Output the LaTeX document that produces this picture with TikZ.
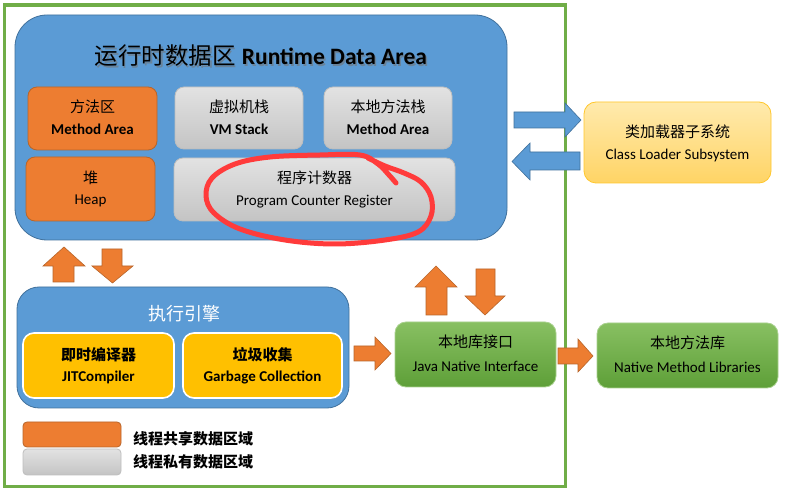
\documentclass[tikz,border=0pt]{standalone}
\usepackage{fontspec}
\setmainfont{Carlito}
\newfontfamily\cjk{Noto Sans CJK SC}
\definecolor{frameG}{HTML}{70AD47}
\definecolor{blueF}{HTML}{5B9BD5}
\definecolor{blueD}{HTML}{41719C}
\definecolor{orF}{HTML}{ED7D31}
\definecolor{orD}{HTML}{B8652A}
\definecolor{grT}{HTML}{E2E2E2}
\definecolor{grB}{HTML}{C4C4C4}
\definecolor{grD}{HTML}{BEBEBE}
\definecolor{yeT}{HTML}{FFEAAD}
\definecolor{yeB}{HTML}{FFD465}
\definecolor{yeD}{HTML}{FFC72C}
\definecolor{goldF}{HTML}{FFC000}
\definecolor{gnT}{HTML}{88C062}
\definecolor{gnB}{HTML}{5E9F38}
\definecolor{gnD}{HTML}{A9D18E}
\definecolor{penR}{HTML}{FF3B3B}
\begin{document}
\begin{tikzpicture}[x=1pt,y=-1pt,
  box/.style={inner sep=0pt, outer sep=0pt},
  bluebox/.style={box, fill=blueF, draw=blueD, line width=0.8pt},
  orbox/.style={box, fill=orF, draw=orD, line width=0.8pt, rounded corners=9pt},
  grbox/.style={box, top color=grT, bottom color=grB, draw=grD, line width=0.8pt, rounded corners=9pt},
  goldbox/.style={box, fill=goldF, draw=white, line width=1.6pt, rounded corners=11pt},
  gnbox/.style={box, top color=gnT, bottom color=gnB, draw=gnD, line width=0.8pt, rounded corners=11pt},
  lab/.style={inner sep=0pt, font=\fontsize{15}{18}\selectfont},
  zh/.style={inner sep=0pt, font=\cjk\fontsize{15}{18}\selectfont},
  barrow/.style={fill=blueF, draw=blueD, line width=0.6pt, line join=miter},
  oarrow/.style={fill=orF, draw=orD, line width=0.6pt, line join=miter}]
\useasboundingbox (0,0) rectangle (788,494);
\fill[white] (0,0) rectangle (788,494);

% outer green frame
\draw[frameG, line width=3.5pt] (4.5,5) rectangle (565.5,486.5);

% Runtime data area
\node[bluebox, rounded corners=32pt, minimum width=492pt, minimum height=225pt] (rda) at (261,127.5) {};
\node[inner sep=0pt, text=black!55, opacity=0.6] (rdatitles) at (262.5,57.5)
  {{\cjk\fontsize{23.5}{28}\selectfont 运行时数据区}\hspace{0.6em}{\fontsize{23.5}{28}\selectfont\bfseries Runtime Data Area}};
\node[inner sep=0pt, text=black] (rdatitle) at (261,56)
  {{\cjk\fontsize{23.5}{28}\selectfont 运行时数据区}\hspace{0.6em}{\fontsize{23.5}{28}\selectfont\bfseries Runtime Data Area}};

\node[orbox, minimum width=129pt, minimum height=63pt] (ma) at (92.5,118.5) {};
\node[zh] (maz) at (92.5,107) {方法区};
\node[lab, font=\fontsize{15}{18}\selectfont\bfseries] (mae) at (92.5,129.5) {Method Area};

\node[orbox, minimum width=129pt, minimum height=64pt] (heap) at (90.5,189) {};
\node[zh] (heapz) at (90.5,178) {堆};
\node[lab] (heape) at (90.5,201) {Heap};

\node[grbox, minimum width=128pt, minimum height=62pt] (vms) at (239,118) {};
\node[zh] (vmsz) at (239,107) {虚拟机栈};
\node[lab, font=\fontsize{15}{18}\selectfont\bfseries] (vmse) at (239,129.5) {VM Stack};

\node[grbox, minimum width=128pt, minimum height=62pt] (nms) at (388,118) {};
\node[zh] (nmsz) at (388,107) {本地方法栈};
\node[lab, font=\fontsize{15}{18}\selectfont\bfseries] (nmse) at (388,129.5) {Method Area};

\node[grbox, minimum width=281pt, minimum height=63pt] (pc) at (314.5,189.5) {};
\node[zh] (pcz) at (314.5,178) {程序计数器};
\node[lab] (pce) at (314.5,201.5) {Program Counter Register};

% class loader
\node[box, top color=yeT, bottom color=yeB, draw=yeD, line width=0.8pt, rounded corners=12pt,
  minimum width=187pt, minimum height=81pt] (cls) at (677.5,142.5) {};
\node[zh] (clsz) at (677.5,132) {类加载器子系统};
\node[lab] (clse) at (677.5,155.5) {Class Loader Subsystem};

% blue arrows between RDA and class loader
\draw[barrow] (514,112) -- (565,112) -- (565,103) -- (581,120) -- (565,137) -- (565,128) -- (514,128) -- cycle;
\draw[barrow] (580,152) -- (530,152) -- (530,143) -- (512,161.5) -- (530,180) -- (530,170) -- (580,170) -- cycle;

% orange arrows between RDA and execution engine
\draw[oarrow] (53,282) -- (53,266) -- (43,266) -- (64,247) -- (85,266) -- (74,266) -- (74,282) -- cycle;
\draw[oarrow] (102,249) -- (122,249) -- (122,266) -- (133,266) -- (112.5,283) -- (92,266) -- (102,266) -- cycle;

% execution engine
\node[bluebox, rounded corners=22pt, minimum width=332pt, minimum height=121pt] (ee) at (183,347.5) {};
\node[inner sep=0pt, text=white, font=\cjk\fontsize{18}{22}\selectfont] (eez) at (184,314) {执行引擎};
\node[goldbox, minimum width=151pt, minimum height=65pt] (jit) at (98.5,365.5) {};
\node[zh, font=\cjk\fontsize{15}{18}\selectfont\bfseries] (jitz) at (98.5,355) {即时编译器};
\node[lab, font=\fontsize{15}{18}\selectfont\bfseries] (jite) at (98.5,377.5) {JITCompiler};
\node[goldbox, minimum width=159pt, minimum height=65pt] (gc) at (262.5,365.5) {};
\node[zh, font=\cjk\fontsize{15}{18}\selectfont\bfseries] (gcz) at (262.5,355) {垃圾收集};
\node[lab, font=\fontsize{15}{18}\selectfont\bfseries] (gce) at (262.5,377.5) {Garbage Collection};

% EE -> JNI
\draw[oarrow] (354,346) -- (375,346) -- (375,337) -- (391,353.5) -- (375,370) -- (375,361) -- (354,361) -- cycle;

% JNI
\node[gnbox, minimum width=161pt, minimum height=65pt] (jni) at (475.5,354.5) {};
\node[zh] (jniz) at (475.5,342) {本地库接口};
\node[lab] (jnie) at (475.5,366.5) {Java Native Interface};

% JNI up/down arrows
\draw[oarrow] (426,315) -- (426,287) -- (415,287) -- (436,266) -- (457,287) -- (447,287) -- (447,315) -- cycle;
\draw[oarrow] (476,269) -- (495,269) -- (495,296) -- (505,296) -- (485,315) -- (465,296) -- (476,296) -- cycle;

% JNI -> NML
\draw[oarrow] (558,348) -- (578,348) -- (578,339) -- (593,356) -- (578,372) -- (578,364) -- (558,364) -- cycle;

% native method libraries
\node[gnbox, minimum width=181pt, minimum height=65pt] (nml) at (687.5,355.5) {};
\node[zh] (nmlz) at (687.5,343) {本地方法库};
\node[lab] (nmle) at (687.5,367.5) {Native Method Libraries};

% legend
\node[orbox, rounded corners=4pt, minimum width=98pt, minimum height=25pt] (lego) at (72,434.5) {};
\node[grbox, rounded corners=4pt, minimum width=98pt, minimum height=26pt] (legg) at (72,462) {};
\node[zh, anchor=west, font=\cjk\fontsize{15}{18}\selectfont\bfseries] (legot) at (133,439) {线程共享数据区域};
\node[zh, anchor=west, font=\cjk\fontsize{15}{18}\selectfont\bfseries] (leggt) at (133,462) {线程私有数据区域};

% red hand-drawn circle
\draw[penR, line width=5pt, line cap=round, line join=round] plot[smooth, tension=0.6] coordinates {
  (396,183) (389,175) (378,164) (360,155) (320,155) (270,157) (235,164) (212,178) (206,196)
  (214,213) (240,229) (285,240) (335,244) (385,240) (418,232) (431,216) (431,197) (421,182)
  (404,173) (385,166) (368,158)};
\end{tikzpicture}
\end{document}
